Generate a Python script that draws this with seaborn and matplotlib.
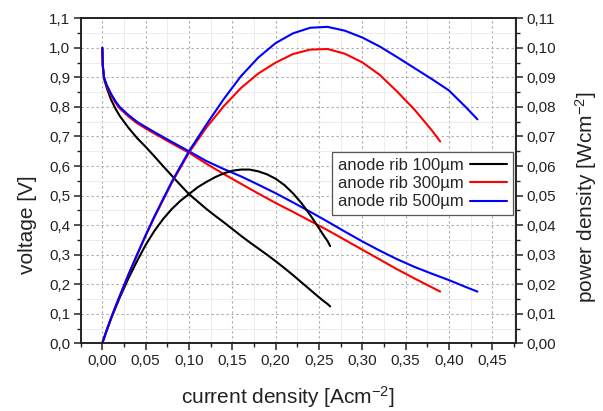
import matplotlib
matplotlib.use("Agg")
import matplotlib.pyplot as plt
import seaborn as sns
from matplotlib.ticker import MultipleLocator
from matplotlib.lines import Line2D

# ---------------- data ----------------
labels = ["anode rib 100µm", "anode rib 300µm", "anode rib 500µm"]
colors = ["#000000", "#ff0000", "#0000ff"]

# anode rib 100 µm
i100 = [0, 0.0005, 0.002, 0.005, 0.01, 0.015, 0.02, 0.03, 0.04, 0.05, 0.06, 0.07, 0.08,
        0.09, 0.10, 0.11, 0.12, 0.13, 0.14, 0.15, 0.16, 0.17, 0.18, 0.19, 0.20, 0.21,
        0.22, 0.23, 0.24, 0.25, 0.255, 0.26, 0.263]
v100 = [1.0, 0.94, 0.895, 0.865, 0.825, 0.795, 0.77, 0.73, 0.695, 0.665, 0.633, 0.60, 0.568,
        0.536, 0.505, 0.48, 0.455, 0.432, 0.41, 0.387, 0.364, 0.342, 0.321, 0.30, 0.278, 0.255,
        0.231, 0.206, 0.181, 0.156, 0.144, 0.133, 0.125]
p100 = [0, 0.0005, 0.0018, 0.0043, 0.0083, 0.0119, 0.0154, 0.0219, 0.0278, 0.0333, 0.038, 0.042, 0.0454,
        0.0482, 0.0505, 0.0528, 0.0546, 0.0562, 0.0575, 0.0584, 0.0588, 0.0588, 0.0582, 0.0572, 0.0557, 0.0536,
        0.0508, 0.0474, 0.0434, 0.039, 0.0367, 0.0346, 0.0329]

# anode rib 300 µm
i300 = [0, 0.0005, 0.002, 0.005, 0.01, 0.015, 0.02, 0.03, 0.04, 0.05, 0.06, 0.08, 0.10,
        0.12, 0.14, 0.16, 0.18, 0.20, 0.22, 0.24, 0.26, 0.28, 0.30, 0.32, 0.34, 0.36, 0.38, 0.39]
v300 = [1.0, 0.94, 0.90, 0.87, 0.84, 0.815, 0.795, 0.768, 0.745, 0.727, 0.71, 0.677, 0.645,
        0.608, 0.573, 0.54, 0.507, 0.475, 0.445, 0.414, 0.383, 0.35, 0.317, 0.284, 0.251, 0.22, 0.19, 0.175]
p300 = [0, 0.0005, 0.0018, 0.0044, 0.0084, 0.0122, 0.0159, 0.023, 0.0298, 0.0364, 0.0426, 0.0542, 0.0645,
        0.073, 0.0802, 0.0864, 0.0913, 0.095, 0.0979, 0.0994, 0.0996, 0.098, 0.0951, 0.0909, 0.0853, 0.0792,
        0.0722, 0.0683]

# anode rib 500 µm
i500 = [0, 0.0005, 0.002, 0.005, 0.01, 0.015, 0.02, 0.03, 0.04, 0.05, 0.06, 0.08, 0.10,
        0.12, 0.14, 0.16, 0.18, 0.20, 0.22, 0.24, 0.26, 0.28, 0.30, 0.32, 0.34, 0.36, 0.38,
        0.40, 0.42, 0.433]
v500 = [1.0, 0.94, 0.90, 0.875, 0.845, 0.82, 0.80, 0.773, 0.75, 0.732, 0.715, 0.682, 0.65,
        0.617, 0.59, 0.565, 0.537, 0.508, 0.477, 0.445, 0.412, 0.378, 0.345, 0.314, 0.285, 0.259, 0.236,
        0.214, 0.19, 0.175]
p500 = [0, 0.0005, 0.0018, 0.0044, 0.0085, 0.0123, 0.016, 0.0232, 0.030, 0.0366, 0.0429, 0.0546, 0.065,
        0.074, 0.0826, 0.0904, 0.0967, 0.1016, 0.1049, 0.1068, 0.1071, 0.1058, 0.1035, 0.1005, 0.0969, 0.0932,
        0.0895, 0.0856, 0.0798, 0.0758]

x_ticks = [0.00, 0.05, 0.10, 0.15, 0.20, 0.25, 0.30, 0.35, 0.40, 0.45]
x_tick_labels = ["0,00", "0,05", "0,10", "0,15", "0,20", "0,25", "0,30", "0,35", "0,40", "0,45"]
v_ticks = [0.0, 0.1, 0.2, 0.3, 0.4, 0.5, 0.6, 0.7, 0.8, 0.9, 1.0, 1.1]
v_tick_labels = ["0,0", "0,1", "0,2", "0,3", "0,4", "0,5", "0,6", "0,7", "0,8", "0,9", "1,0", "1,1"]
p_ticks = [0.00, 0.01, 0.02, 0.03, 0.04, 0.05, 0.06, 0.07, 0.08, 0.09, 0.10, 0.11]
p_tick_labels = ["0,00", "0,01", "0,02", "0,03", "0,04", "0,05", "0,06", "0,07", "0,08", "0,09", "0,10", "0,11"]

# ---------------- style ----------------
sns.set_theme(style="white")
plt.rcParams['font.family'] = ['Liberation Sans', 'DejaVu Sans']
plt.rcParams['mathtext.fontset'] = 'custom'
plt.rcParams['mathtext.rm'] = 'Liberation Sans'
plt.rcParams['mathtext.it'] = 'Liberation Sans:italic'
plt.rcParams['axes.unicode_minus'] = False

fig = plt.figure(figsize=(6.03, 4.11), dpi=100)
fig.subplots_adjust(left=0.1338, right=0.8557, bottom=0.1647, top=0.9555)
ax = fig.add_subplot(111)
ax2 = ax.twinx()

series = [(i100, v100, p100), (i300, v300, p300), (i500, v500, p500)]
for (ii, vv, pp), c in zip(series, colors):
    sns.lineplot(x=ii, y=vv, ax=ax, color=c, lw=1.5, sort=False, legend=False)
    sns.lineplot(x=ii, y=pp, ax=ax2, color=c, lw=1.5, sort=False, legend=False)

ax.set_xlim(-0.025, 0.4775)
ax.set_ylim(0, 1.1)
ax2.set_ylim(0, 0.11)

ax.set_xticks(x_ticks)
ax.set_xticklabels(x_tick_labels)
ax.set_yticks(v_ticks)
ax.set_yticklabels(v_tick_labels)
ax2.set_yticks(p_ticks)
ax2.set_yticklabels(p_tick_labels)
ax.xaxis.set_minor_locator(MultipleLocator(0.025))
ax.yaxis.set_minor_locator(MultipleLocator(0.05))
ax2.yaxis.set_minor_locator(MultipleLocator(0.005))

ax.tick_params(axis='x', which='both', bottom=True, top=False, direction='out', colors='#222222',
               labelsize=11, labelcolor='#222222')
ax.tick_params(axis='y', which='both', left=True, right=False, direction='out', colors='#222222',
               labelsize=11, labelcolor='#222222')
ax2.tick_params(axis='y', which='both', right=True, left=False, direction='out', colors='#222222',
                labelsize=11, labelcolor='#222222')
for a in (ax, ax2):
    a.tick_params(which='major', length=5, width=1.1, pad=2.5)
    a.tick_params(which='minor', length=3, width=1.0)
    for s in a.spines.values():
        s.set_color('#222222')
        s.set_linewidth(1.2)

ax.grid(True, which='major', color='#a8a8a8', linestyle=(0, (2, 2.5)), linewidth=0.8)
ax.grid(True, which='minor', color='#ececec', linestyle='-', linewidth=0.7)
ax2.grid(False)
ax.set_axisbelow(True)

ax.set_xlabel("current density [Acm$^{-2}$]", fontsize=15, color='#222222')
ax.set_ylabel("voltage [V]", fontsize=15, color='#222222')
ax2.set_ylabel("power density [Wcm$^{-2}$]", fontsize=15, color='#222222')
ax.xaxis.set_label_coords(0.477, -0.125)
ax.yaxis.set_label_coords(-0.100, 0.364)
ax2.yaxis.set_label_coords(1.131, 0.449)

handles = [Line2D([], [], color=c, lw=1.5) for c in colors]
leg = ax2.legend(handles, labels, loc='upper right', bbox_to_anchor=(0.993, 0.589),
                 fontsize=12, frameon=True, fancybox=False, markerfirst=False,
                 handlelength=2.2, handletextpad=0.4, labelspacing=0.2, borderpad=0.35,
                 borderaxespad=0.0)
leg.get_frame().set_edgecolor('#555555')
leg.get_frame().set_linewidth(0.9)
leg.get_frame().set_facecolor('white')
leg.get_frame().set_alpha(1.0)

fig.savefig("out.png", dpi=100)
